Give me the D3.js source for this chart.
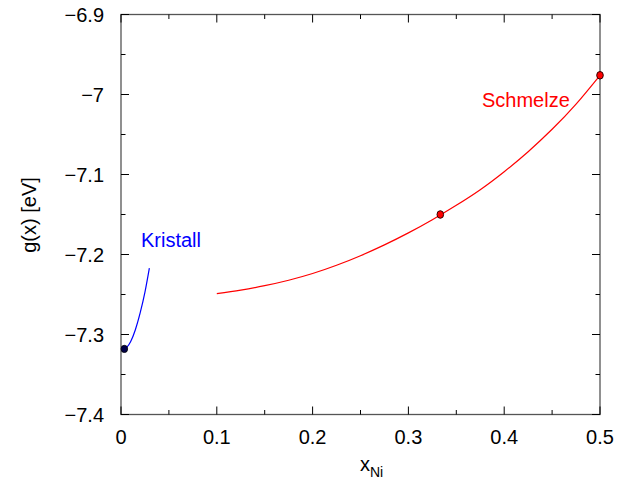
<!DOCTYPE html>
<html>
<head>
<meta charset="utf-8">
<script src="https://cdn.jsdelivr.net/npm/d3@7"></script>
<style>
  html, body { margin: 0; padding: 0; background: #fff; }
  svg text { font-family: "Liberation Sans", Arial, sans-serif; }
</style>
</head>
<body>
<svg id="chart" width="620" height="486"></svg>
<script>
// Free energy per atom g(x) vs. Ni fraction
const xTicks = [0, 0.1, 0.2, 0.3, 0.4, 0.5];
const yTicks = [-6.9, -7.0, -7.1, -7.2, -7.3, -7.4];
const xMinor = [0.05, 0.15, 0.25, 0.35, 0.45];
const yMinor = [-6.95, -7.05, -7.15, -7.25, -7.35];

// melt (Schmelze) curve
const meltX = [0.1, 0.125, 0.15, 0.175, 0.2, 0.225, 0.25, 0.275, 0.3, 0.325, 0.35, 0.375, 0.4, 0.425, 0.45, 0.475, 0.5];
const meltG = [-7.249, -7.2445, -7.239, -7.2322, -7.2238, -7.2135, -7.2015, -7.188, -7.173, -7.1565, -7.1385, -7.119, -7.0965, -7.0715, -7.0435, -7.012, -6.976];
const meltPtsX = [0.3333, 0.5];
const meltPtsG = [-7.150, -6.976];

// crystal (Kristall) curve
const crystX = [0.0035, 0.006, 0.01, 0.015, 0.02, 0.025, 0.0296];
const crystG = [-7.318, -7.316, -7.309, -7.294, -7.273, -7.247, -7.217];
const crystPtsX = [0.0035];
const crystPtsG = [-7.318];

const svg = d3.select("#chart");
const L = 121, R = 600, T = 14.5, B = 414.5;
const x = d3.scaleLinear().domain([0, 0.5]).range([L, R]);
const y = d3.scaleLinear().domain([-7.4, -6.9]).range([B, T]);
const fmt = v => (v === 0 ? "0" : d3.format("")(+v.toFixed(2))).replace("-", "\u2212");

// frame
svg.append("rect").attr("x", L).attr("y", T).attr("width", R - L).attr("height", B - T)
  .attr("fill", "none").attr("stroke", "#555").attr("stroke-width", 1.3);

// inward ticks on all four sides
const tk = svg.append("g").attr("stroke", "#000").attr("stroke-width", 1);
[[xTicks, 8], [xMinor, 4.5]].forEach(([arr, len]) => arr.forEach(v => {
  tk.append("line").attr("x1", x(v)).attr("x2", x(v)).attr("y1", B).attr("y2", B - len);
  tk.append("line").attr("x1", x(v)).attr("x2", x(v)).attr("y1", T).attr("y2", T + len);
}));
[[yTicks, 8], [yMinor, 4.5]].forEach(([arr, len]) => arr.forEach(v => {
  tk.append("line").attr("y1", y(v)).attr("y2", y(v)).attr("x1", L).attr("x2", L + len);
  tk.append("line").attr("y1", y(v)).attr("y2", y(v)).attr("x1", R).attr("x2", R - len);
}));

// tick labels
svg.append("g").selectAll("text").data(xTicks).join("text")
  .attr("x", d => x(d)).attr("y", 444).attr("text-anchor", "middle")
  .attr("font-size", 20).attr("fill", "#000").text(d => fmt(d));
svg.append("g").selectAll("text").data(yTicks).join("text")
  .attr("x", 104).attr("y", d => y(d) + 7).attr("text-anchor", "end")
  .attr("font-size", 20).attr("fill", "#000").text(d => fmt(d));

// axis titles
const xt = svg.append("text").attr("x", 360).attr("y", 471).attr("font-size", 20).attr("fill", "#000");
xt.append("tspan").text("x");
xt.append("tspan").attr("font-size", 14).attr("dy", 6).text("Ni");
svg.append("text").attr("transform", "translate(36,215) rotate(-90)")
  .attr("text-anchor", "middle").attr("font-size", 20).attr("fill", "#000").text("g(x) [eV]");

// curves
const smooth = d3.line().x(d => x(d[0])).y(d => y(d[1])).curve(d3.curveNatural);
svg.append("path").datum(d3.zip(meltX, meltG)).attr("d", smooth)
  .attr("fill", "none").attr("stroke", "#ff0000").attr("stroke-width", 1.2);
svg.append("path").datum(d3.zip(crystX, crystG)).attr("d", smooth)
  .attr("fill", "none").attr("stroke", "#0000ff").attr("stroke-width", 1.2);

// markers
svg.append("g").selectAll("ellipse").data(d3.zip(meltPtsX, meltPtsG)).join("ellipse")
  .attr("cx", d => x(d[0])).attr("cy", d => y(d[1])).attr("rx", 3.3).attr("ry", 3.8)
  .attr("fill", "#ff0000").attr("stroke", "#300").attr("stroke-width", 1);
svg.append("g").selectAll("ellipse").data(d3.zip(crystPtsX, crystPtsG)).join("ellipse")
  .attr("cx", d => x(d[0])).attr("cy", d => y(d[1])).attr("rx", 3.3).attr("ry", 3.6)
  .attr("fill", "#00004a").attr("stroke", "#000").attr("stroke-width", 0.8);

// curve labels
svg.append("text").attr("x", 482).attr("y", 107).attr("font-size", 20).attr("fill", "#ff0000").text("Schmelze");
svg.append("text").attr("x", 141).attr("y", 247).attr("font-size", 20).attr("fill", "#0000ff").text("Kristall");
</script>
</body>
</html>
